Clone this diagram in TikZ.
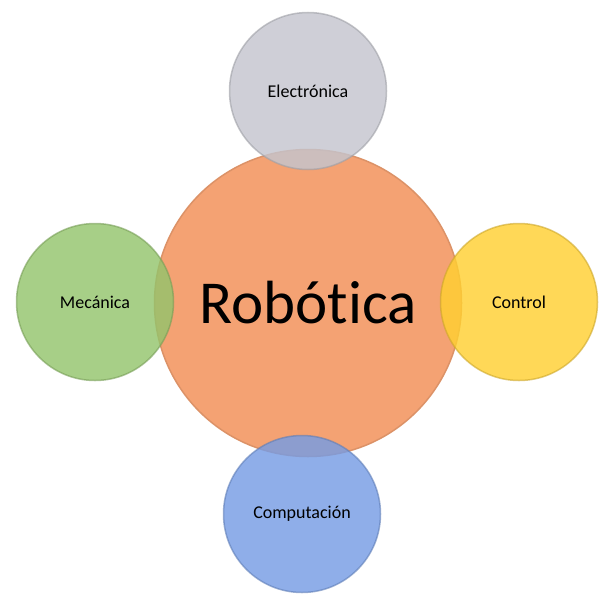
\documentclass[tikz,border=0pt]{standalone}
\usepackage{fontspec}
\setmainfont[Ligatures=NoCommon]{Carlito}

\definecolor{roboOrange}{RGB}{244,162,115}
\definecolor{elecGray}{RGB}{196,197,206}
\definecolor{mecGreen}{RGB}{148,196,108}
\definecolor{ctrlYellow}{RGB}{255,208,50}
\definecolor{compBlue}{RGB}{118,156,228}

\tikzset{
  bubble/.style={circle, draw=#1!80!black, line width=1.5pt, fill=#1,
    fill opacity=0.82, draw opacity=0.6, text opacity=1,
    minimum size=157pt, inner sep=0pt, font=\fontsize{18}{20}\selectfont},
  core/.style={circle, draw=roboOrange!90!black, line width=1.5pt, fill=roboOrange,
    minimum size=307pt, inner sep=0pt, font=\fontsize{61}{70}\selectfont}
}

\begin{document}
\begin{tikzpicture}[x=1pt, y=-1pt]

\useasboundingbox (0,0) rectangle (601,594);

\node[core] (robotica) at (308,303) {Robótica};

\node[bubble=elecGray]   (electronica) at (308,91)  {Electrónica};
\node[bubble=mecGreen]   (mecanica)    at (95,302)  {Mecánica};
\node[bubble=ctrlYellow] (control)     at (519,302) {Control};
\node[bubble=compBlue]   (computacion) at (302,514) {Computación};

\end{tikzpicture}
\end{document}
